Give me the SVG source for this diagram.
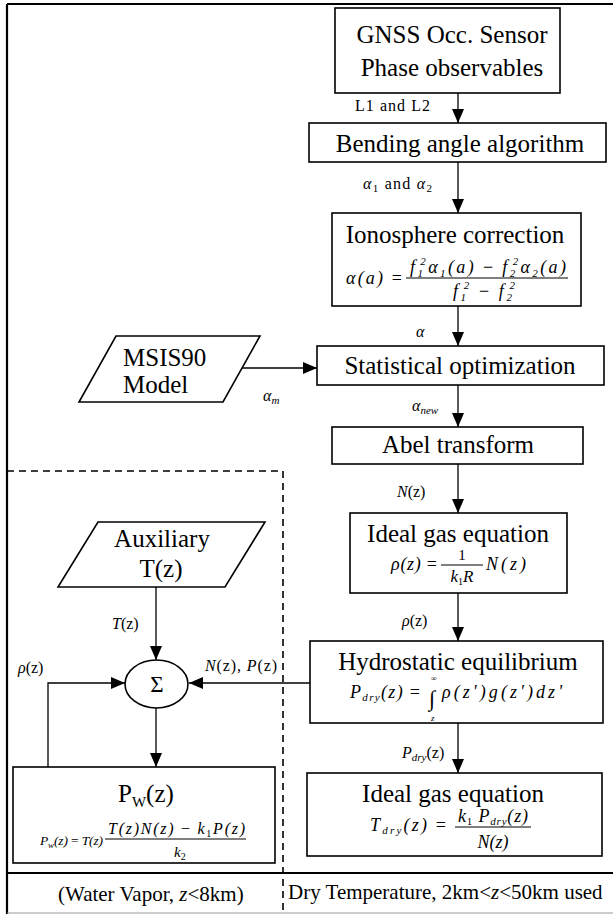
<svg xmlns="http://www.w3.org/2000/svg" width="613" height="914" viewBox="0 0 613 914">
<defs>
<marker id="ah" markerUnits="userSpaceOnUse" markerWidth="14" markerHeight="12" viewBox="0 0 14 12" refX="14" refY="6" orient="auto">
<path d="M0,0 L14,6 L0,12 z" fill="#000"/>
</marker>
<style>
.box{fill:#fff;stroke:#000;stroke-width:1.6}
.ln{fill:none;stroke:#000;stroke-width:1.3}
.fr{fill:none;stroke:#000;stroke-width:2.2}
.dash{fill:none;stroke:#000;stroke-width:1.6;stroke-dasharray:7,5}
text{font-family:"Liberation Serif","Times New Roman",serif;fill:#000}
.ti{font-size:25px;text-anchor:middle}
.lb{font-size:16px}
.m{font-style:italic}
.n{font-style:normal}
.fl{stroke:#000;stroke-width:1}
</style>
</defs>
<rect width="613" height="914" fill="#fff"/>
<g id="frame">
<path class="fr" d="M7,4 H613"/>
<path class="fr" d="M7,4 V914"/>
<path class="fr" d="M7,873 H613"/>
<path d="M7,913 H613" stroke="#999" stroke-width="1"/>
<path class="dash" d="M7,471 H283 V914"/>
</g>
<g id="connectors">
<path class="ln" d="M458,93 V123" marker-end="url(#ah)"/>
<path class="ln" d="M458,162 V213" marker-end="url(#ah)"/>
<path class="ln" d="M458,306 V346" marker-end="url(#ah)"/>
<path class="ln" d="M242,368 H317" marker-end="url(#ah)"/>
<path class="ln" d="M458,385 V427" marker-end="url(#ah)"/>
<path class="ln" d="M458,464 V513" marker-end="url(#ah)"/>
<path class="ln" d="M458,593 V641" marker-end="url(#ah)"/>
<path class="ln" d="M458,723 V773" marker-end="url(#ah)"/>
<path class="ln" d="M310,683 H189" marker-end="url(#ah)"/>
<path class="ln" d="M156,587 V660" marker-end="url(#ah)"/>
<path class="ln" d="M156,708 V767" marker-end="url(#ah)"/>
<path class="ln" d="M48,767 V683 H125" marker-end="url(#ah)"/>
<text class="lb" x="355" y="111" textLength="75">L1 and L2</text>
<text class="lb" x="363" y="189" textLength="69"><tspan class="m">α</tspan><tspan font-size="11" dy="3">1</tspan><tspan dy="-3"> and </tspan><tspan class="m">α</tspan><tspan font-size="11" dy="3">2</tspan></text>
<text class="lb m" x="416" y="337">α</text>
<text class="lb m" x="263" y="401">α<tspan font-size="11" dy="3">m</tspan></text>
<text class="lb m" x="412" y="411">α<tspan font-size="11" dy="3">new</tspan></text>
<text class="lb" x="397" y="497"><tspan class="m">N</tspan>(z)</text>
<text class="lb" x="402" y="626"><tspan class="m">ρ</tspan>(z)</text>
<text class="lb" x="402" y="758"><tspan class="m">P</tspan><tspan class="m" font-size="11" dy="3">dry</tspan><tspan dy="-3">(z)</tspan></text>
<text class="lb" x="112" y="629"><tspan class="m">T</tspan>(z)</text>
<text class="lb" x="18" y="673"><tspan class="m">ρ</tspan>(z)</text>
<text class="lb" x="205" y="671" textLength="72"><tspan class="m">N</tspan>(z), <tspan class="m">P</tspan>(z)</text>
</g>
<g id="gnss">
<rect class="box" x="335" y="8" width="225" height="85"/>
<text class="ti" x="452" y="43">GNSS Occ. Sensor</text>
<text class="ti" x="452" y="76">Phase observables</text>
</g>
<g id="bending">
<rect class="box" x="309" y="123" width="297" height="39"/>
<text class="ti" x="460" y="152">Bending angle algorithm</text>
</g>
<g id="ionosphere">
<rect class="box" x="332" y="213" width="249" height="93"/>
<text class="ti" x="455" y="243">Ionosphere correction</text>
<text x="346" y="284" font-size="18" class="m" textLength="56">α(a) <tspan class="n">=</tspan></text>
<text x="410" y="273" font-size="18" class="m" textLength="156">f<tspan font-size="11" dy="4">1</tspan><tspan font-size="11" dx="-5" dy="-12">2</tspan><tspan dy="8">α</tspan><tspan font-size="11" dy="4">1</tspan><tspan dy="-4">(a) </tspan><tspan class="n">−</tspan> f<tspan font-size="11" dy="4">2</tspan><tspan font-size="11" dx="-5" dy="-12">2</tspan><tspan dy="8">α</tspan><tspan font-size="11" dy="4">2</tspan><tspan dy="-4">(a)</tspan></text>
<line class="fl" x1="406" y1="278" x2="568" y2="278"/>
<text x="453" y="297" font-size="18" class="m" textLength="62">f<tspan font-size="11" dy="4">1</tspan><tspan font-size="11" dx="-5" dy="-12">2</tspan><tspan dy="8"> </tspan><tspan class="n">−</tspan> f<tspan font-size="11" dy="4">2</tspan><tspan font-size="11" dx="-5" dy="-12">2</tspan></text>
</g>
<g id="msis90">
<polygon class="box" points="116,336 260,336 223,402 79,402"/>
<text x="123" y="366" font-size="25">MSIS90</text>
<text x="123" y="393" font-size="25">Model</text>
</g>
<g id="statistical">
<rect class="box" x="317" y="346" width="287" height="39"/>
<text class="ti" x="460" y="374">Statistical optimization</text>
</g>
<g id="abel">
<rect class="box" x="332" y="427" width="251" height="37"/>
<text class="ti" x="458" y="453">Abel transform</text>
</g>
<g id="idealgas1">
<rect class="box" x="350" y="513" width="217" height="80"/>
<text class="ti" x="458" y="542">Ideal gas equation</text>
<text x="391" y="570" font-size="18" class="m" textLength="46">ρ(z) <tspan class="n">=</tspan></text>
<text x="462" y="560" font-size="15" text-anchor="middle">1</text>
<line class="fl" x1="441" y1="565" x2="483" y2="565"/>
<text x="462" y="582" font-size="17" text-anchor="middle" class="m">k<tspan font-size="10" dy="3" class="n">1</tspan><tspan dy="-3">R</tspan></text>
<text x="486" y="570" font-size="18" class="m" textLength="40">N(z)</text>
</g>
<g id="hydrostatic">
<rect class="box" x="310" y="641" width="293" height="82"/>
<text class="ti" x="458" y="670">Hydrostatic equilibrium</text>
<text x="350" y="698" font-size="18" class="m" textLength="70">P<tspan font-size="11" dy="3">dry</tspan><tspan dy="-3">(z) </tspan><tspan class="n">=</tspan></text>
<text x="429" y="706" font-size="22" class="m">∫</text>
<text x="431" y="681" font-size="8">∞</text>
<text x="431" y="721" font-size="9" class="m">z</text>
<text x="442" y="698" font-size="18" class="m" textLength="120">ρ(z')g(z')dz'</text>
</g>
<g id="idealgas2">
<rect class="box" x="307" y="773" width="295" height="83"/>
<text class="ti" x="453" y="802">Ideal gas equation</text>
<text x="370" y="831" font-size="18" class="m" textLength="76">T<tspan font-size="11" dy="3">dry</tspan><tspan dy="-3">(z) </tspan><tspan class="n">=</tspan></text>
<text x="458" y="822" font-size="18" class="m" textLength="70">k<tspan font-size="11" dy="3" class="n">1</tspan><tspan dy="-3"> P</tspan><tspan font-size="11" dy="3">dry</tspan><tspan dy="-3">(z)</tspan></text>
<line class="fl" x1="455" y1="827" x2="531" y2="827"/>
<text x="493" y="848" font-size="18" text-anchor="middle" class="m">N(z)</text>
</g>
<g id="auxiliary">
<polygon class="box" points="98,522 265,522 225,587 58,587"/>
<text class="ti" x="162" y="547">Auxiliary</text>
<text class="ti" x="161" y="577">T(z)</text>
</g>
<g id="sigma">
<ellipse class="box" cx="156.5" cy="684" rx="31.5" ry="24"/>
<text x="157" y="692" font-size="23" text-anchor="middle">Σ</text>
</g>
<g id="pw">
<rect class="box" x="13" y="767" width="262" height="96"/>
<text x="118" y="802" font-size="25">P<tspan font-size="15" dy="5">W</tspan><tspan dy="-5">(z)</tspan></text>
<text x="40" y="845" font-size="13.5" class="m" textLength="63">P<tspan font-size="9" dy="3">w</tspan><tspan dy="-3">(z) </tspan><tspan class="n">=</tspan> T(z)</text>
<text x="108" y="834" font-size="16" class="m" textLength="137">T(z)N(z) <tspan class="n">−</tspan> k<tspan font-size="10" dy="3" class="n">1</tspan><tspan dy="-3">P(z)</tspan></text>
<line class="fl" x1="105" y1="839" x2="246" y2="839"/>
<text x="174" y="857" font-size="15" class="m">k<tspan font-size="10" dy="3" class="n">2</tspan></text>
</g>
<g id="footer">
<text x="58" y="901" font-size="21">(Water Vapor, <tspan class="m">z</tspan>&lt;8km)</text>
<text x="288" y="899" font-size="21">Dry Temperature, 2km&lt;<tspan class="m">z</tspan>&lt;50km used</text>
</g>
</svg>
